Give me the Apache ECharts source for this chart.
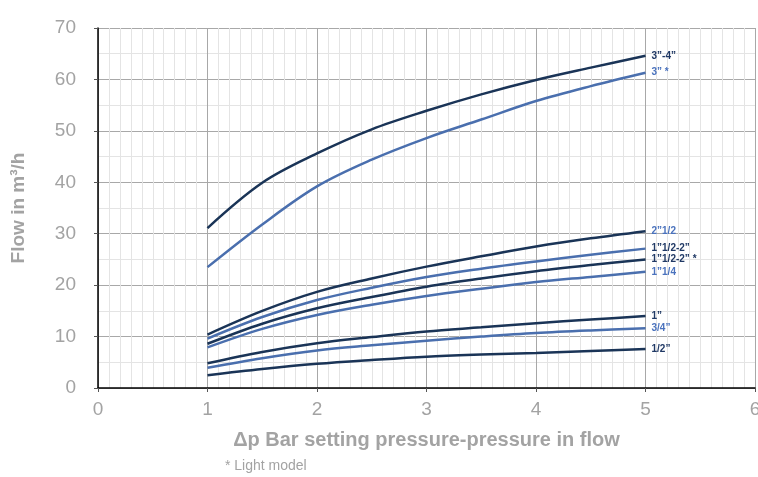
<!DOCTYPE html>
<html><head><meta charset="utf-8">
<script src="https://cdn.jsdelivr.net/npm/echarts@6/dist/echarts.min.js"></script>
<style>html,body{margin:0;padding:0;background:#fff}#c{width:758px;height:477px}</style>
</head><body><div id="c"></div>
<script>
const xs = [1, 1.5, 2, 2.5, 3, 3.5, 4, 4.5, 5];
const names = ['3”-4”', '3” *', '2”1/2', '1”1/2-2”', '1”1/2-2” *', '1”1/4', '1”', '3/4”', '1/2”'];
const s_3_4 = [31.1, 39.9, 45.6, 50.3, 53.9, 57.1, 59.9, 62.3, 64.6];
const s_3_light = [23.5, 31.8, 39.2, 44.4, 48.6, 52.2, 55.8, 58.7, 61.3];
const s_2_12 = [10.4, 15.0, 18.7, 21.3, 23.6, 25.6, 27.5, 29.1, 30.5];
const s_112_2 = [9.6, 13.8, 17.1, 19.5, 21.6, 23.2, 24.6, 25.9, 27.1];
const s_112_2_light = [8.6, 12.5, 15.5, 17.7, 19.7, 21.3, 22.7, 23.9, 25.0];
const s_114 = [7.9, 11.5, 14.2, 16.2, 17.9, 19.3, 20.6, 21.6, 22.6];
const s_1 = [4.8, 7.0, 8.7, 9.9, 11.0, 11.8, 12.6, 13.3, 14.0];
const s_34 = [3.95, 5.8, 7.3, 8.3, 9.2, 10.0, 10.7, 11.2, 11.6];
const s_12 = [2.5, 3.7, 4.7, 5.45, 6.1, 6.5, 6.8, 7.2, 7.6];
const allSeries = [s_3_4, s_3_light, s_2_12, s_112_2, s_112_2_light, s_114, s_1, s_34, s_12];

const DARK = '#1a3457', BLUE = '#4a6fae';
const LDARK = '#1f3864', LBLUE = '#4a72bd';
const lineColors = [DARK, BLUE, DARK, BLUE, DARK, BLUE, DARK, BLUE, DARK];
const labelColors = [LDARK, LBLUE, LBLUE, LDARK, LDARK, LBLUE, LDARK, LBLUE, LDARK];

const chart = echarts.init(document.getElementById('c'));
const gray = '#a3a3a3';
chart.setOption({
  animation: false,
  grid: {left: 98, right: 3, top: 28, bottom: 89, outerBoundsMode: 'none', containLabel: false},
  xAxis: {
    type: 'value', min: 0, max: 6, interval: 1,
    name: 'Δp Bar setting pressure-pressure in flow',
    nameLocation: 'middle', nameGap: 42,
    nameTextStyle: {color: gray, fontSize: 20, fontWeight: 'bold', fontFamily: 'Liberation Sans Narrow, Arial Narrow, sans-serif'},
    axisLine: {lineStyle: {color: '#000', width: 1.5}},
    axisTick: {show: true, length: 4, lineStyle: {color: '#555'}},
    axisLabel: {color: gray, fontSize: 19, margin: 12, fontFamily: 'Liberation Sans, Arial, sans-serif'},
    splitLine: {show: true, lineStyle: {color: '#a8a8a8', width: 1}},
    minorTick: {show: false, splitNumber: 10},
    minorSplitLine: {show: true, lineStyle: {color: '#e4e4e4', width: 1}}
  },
  yAxis: {
    type: 'value', min: 0, max: 70, interval: 10,
    name: 'Flow in m³/h',
    nameLocation: 'middle', nameGap: 70,
    nameTextStyle: {color: gray, fontSize: 19, fontWeight: 'bold', fontFamily: 'Liberation Sans, Arial, sans-serif'},
    axisLine: {show: true, lineStyle: {color: '#000', width: 1.5}},
    axisTick: {show: true, length: 4, lineStyle: {color: '#555'}},
    axisLabel: {color: gray, fontSize: 19, margin: 22, fontFamily: 'Liberation Sans, Arial, sans-serif'},
    splitLine: {show: true, lineStyle: {color: '#a8a8a8', width: 1}},
    minorTick: {show: false, splitNumber: 2},
    minorSplitLine: {show: true, lineStyle: {color: '#e4e4e4', width: 1}}
  },
  graphic: [{
    type: 'text', left: 225, top: 459,
    style: {text: '* Light model', fill: gray, fontSize: 14, fontFamily: 'Liberation Sans Narrow, Arial Narrow, sans-serif'}
  }],
  series: allSeries.map((vals, i) => ({
    name: names[i], type: 'line', smooth: 0.35, symbol: 'none',
    data: xs.map((x, j) => [x, vals[j]]),
    lineStyle: {color: lineColors[i], width: 2.5},
    endLabel: {show: true, formatter: names[i], color: labelColors[i], fontSize: 10, fontWeight: 'bold', distance: 6, fontFamily: 'Liberation Sans, Arial, sans-serif'}
  }))
});
</script></body></html>
